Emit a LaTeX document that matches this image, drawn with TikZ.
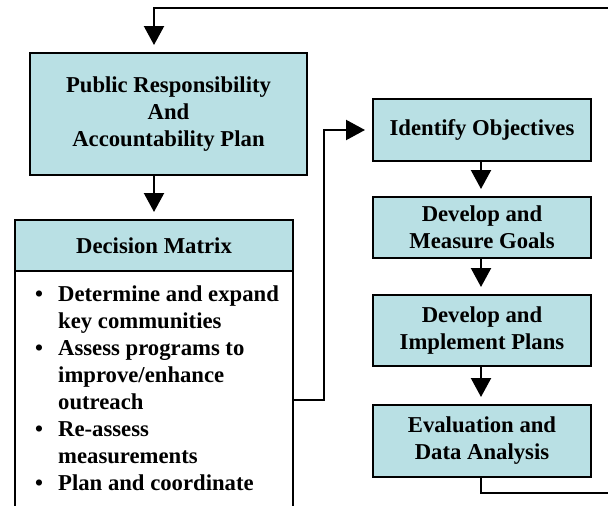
\documentclass[tikz,border=0pt]{standalone}
\usepackage{fontspec}
\setmainfont{Liberation Serif}
\usetikzlibrary{arrows.meta}
\definecolor{boxfill}{RGB}{185,224,228}
\tikzset{
  txt/.style={font=\fontsize{22.7}{27}\selectfont\bfseries},
  box/.style={draw=black, line width=2.2pt, fill=boxfill, inner sep=0pt, outer sep=0pt, align=center, txt},
  conn/.style={draw=black, line width=2.2pt},
  arr/.style={conn, -{Triangle[width=20pt,length=19pt]}, shorten >=8pt}
}
\begin{document}
\begin{tikzpicture}[x=1pt,y=-1pt]
\useasboundingbox (0,0) rectangle (608,506);
\begin{scope}
\clip (0,0) rectangle (608,506);
% left column
\node[box, minimum width=277pt, minimum height=122pt] (prap) at (168.5,114)
  {Public Responsibility\\And\\Accountability Plan};
\node[draw=black, line width=2.2pt, fill=white, minimum width=278pt, minimum height=249pt, inner sep=0pt, outer sep=0pt, anchor=north] (dmb) at (154,271) {};
\node[box, minimum width=278pt, minimum height=51pt] (dmh) at (154,245.5) {Decision Matrix};
\node[txt, anchor=base west, inner sep=0pt, align=left] (dmlist) at (35,301.5)
  {\begin{tabular}[t]{@{}p{23pt}@{}l@{}}
  \textbullet & Determine and expand\\
   & key communities\\
  \textbullet & Assess programs to\\
   & improve/enhance\\
   & outreach\\
  \textbullet & Re-assess\\
   & measurements\\
  \textbullet & Plan and coordinate
  \end{tabular}};
% right column
\node[box, minimum width=218pt, minimum height=62pt] (ident) at (482,130) {Identify Objectives};
\node[box, minimum width=218pt, minimum height=61pt] (dmg) at (482,227.5) {Develop and\\Measure Goals};
\node[box, minimum width=218pt, minimum height=71pt] (dip) at (482,330.5) {Develop and\\Implement Plans};
\node[box, minimum width=218pt, minimum height=72pt] (eda) at (482,441) {Evaluation and\\Data Analysis};
% coordinates
\coordinate (topR) at (612,8);
\coordinate (topL) at (154,8);
\coordinate (midB) at (324,400);
\coordinate (midT) at (324,130);
\coordinate (botR) at (612,493);
% connectors
\draw[arr] (topR) -- (topL) -- (topL |- prap.north);
\draw[arr] (dmh.north |- prap.south) -- (dmh.north);
\draw[arr] (dmb.east |- midB) -- (midB) -- (midT) -- (ident.west);
\draw[arr] (ident.south -| 481,0) -- (dmg.north -| 481,0);
\draw[arr] (dmg.south -| 481,0) -- (dip.north -| 481,0);
\draw[arr] (dip.south -| 481,0) -- (eda.north -| 481,0);
\draw[conn] (eda.south -| 481,0) |- (botR);
\end{scope}
\end{tikzpicture}
\end{document}
